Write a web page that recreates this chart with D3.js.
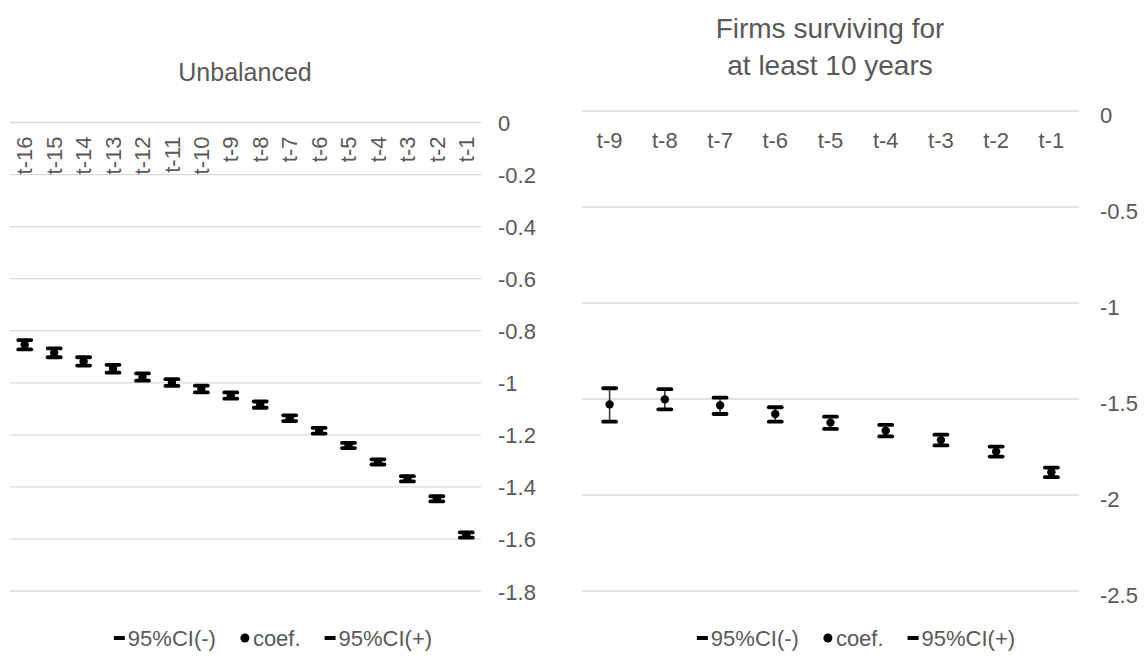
<!DOCTYPE html>
<html>
<head>
<meta charset="utf-8">
<script src="https://cdn.jsdelivr.net/npm/d3@7"></script>
<style>
  html, body { margin: 0; padding: 0; background: #ffffff; }
  svg { display: block; font-family: "Liberation Sans", Arial, Helvetica, sans-serif; }
</style>
</head>
<body>
<svg id="chart" width="1146" height="660"></svg>
<script>
// ---- Unbalanced panel ----
const leftCategories = ["t-16","t-15","t-14","t-13","t-12","t-11","t-10","t-9","t-8","t-7","t-6","t-5","t-4","t-3","t-2","t-1"];
const leftCoef  = [-0.854,-0.885,-0.918,-0.946,-0.978,-0.999,-1.024,-1.049,-1.084,-1.136,-1.184,-1.241,-1.304,-1.369,-1.446,-1.585];
const leftLower = [-0.872,-0.902,-0.934,-0.961,-0.992,-1.012,-1.037,-1.061,-1.096,-1.147,-1.195,-1.251,-1.314,-1.379,-1.456,-1.595];
const leftUpper = [-0.836,-0.868,-0.902,-0.931,-0.964,-0.986,-1.011,-1.037,-1.072,-1.125,-1.173,-1.231,-1.294,-1.359,-1.436,-1.575];
const leftTicks = [0,-0.2,-0.4,-0.6,-0.8,-1,-1.2,-1.4,-1.6,-1.8];

// ---- Firms surviving for at least 10 years panel ----
const rightCategories = ["t-9","t-8","t-7","t-6","t-5","t-4","t-3","t-2","t-1"];
const rightCoef  = [-1.528,-1.502,-1.533,-1.578,-1.623,-1.665,-1.714,-1.774,-1.882];
const rightLower = [-1.618,-1.554,-1.578,-1.618,-1.656,-1.695,-1.742,-1.800,-1.907];
const rightUpper = [-1.444,-1.449,-1.493,-1.543,-1.592,-1.635,-1.686,-1.748,-1.857];
const rightTicks = [0,-0.5,-1,-1.5,-2,-2.5];

const legendLabels = ["95%CI(-)", "coef.", "95%CI(+)"];

const svg = d3.select("#chart");
const textColor = "#595959";
const gridColor = "#d9d9d9";
const tickFont = "22px";

function drawPanel(cfg) {
  const g = svg.append("g");
  const x = d3.scaleBand().domain(cfg.categories).range([cfg.x0, cfg.x1]);
  const y = d3.scaleLinear().domain([cfg.yMin, 0]).range([cfg.yBottom, cfg.yTop]);

  // gridlines
  g.append("g").selectAll("line").data(cfg.ticks).join("line")
    .attr("x1", cfg.x0).attr("x2", cfg.x1)
    .attr("y1", d => y(d)).attr("y2", d => y(d))
    .attr("stroke", gridColor).attr("stroke-width", 1.3);

  // value axis on the right
  const yAxis = d3.axisRight(y).tickValues(cfg.ticks).tickFormat(d => String(d)).tickSize(0).tickPadding(0);
  const ya = g.append("g").attr("transform", `translate(${cfg.labelX},${cfg.labelDy})`).call(yAxis);
  ya.select(".domain").remove();
  ya.selectAll("text").attr("fill", textColor).style("font-size", tickFont)
    .style("font-family", '"Liberation Sans", Arial, sans-serif');

  // category axis labels just below the zero line
  const xAxis = d3.axisBottom(x).tickSize(0).tickPadding(0);
  const xa = g.append("g").attr("transform", `translate(0,${y(0)})`).call(xAxis);
  xa.select(".domain").remove();
  const xt = xa.selectAll("text").attr("fill", textColor).style("font-size", tickFont)
    .style("font-family", '"Liberation Sans", Arial, sans-serif');
  if (cfg.rotate) {
    xt.attr("transform", "rotate(-90)")
      .attr("text-anchor", "end").attr("dy", "0.35em")
      .attr("x", -cfg.labelOffset).attr("y", 0);
  } else {
    xt.attr("dy", null).attr("y", cfg.labelOffset);
  }

  const rows = cfg.categories.map((c, i) => ({
    c, coef: cfg.coef[i], lo: cfg.lower[i], hi: cfg.upper[i]
  }));
  const cx = d => x(d.c) + x.bandwidth() / 2;

  // high-low connecting line
  g.append("g").selectAll("line").data(rows).join("line")
    .attr("x1", cx).attr("x2", cx)
    .attr("y1", d => y(d.hi)).attr("y2", d => y(d.lo))
    .attr("stroke", "#3a3a3a").attr("stroke-width", 1.6);

  // CI dash markers
  const capW = 13;
  ["lo", "hi"].forEach(k => {
    g.append("g").selectAll("line").data(rows).join("line")
      .attr("x1", d => cx(d) - capW / 2).attr("x2", d => cx(d) + capW / 2)
      .attr("y1", d => y(d[k])).attr("y2", d => y(d[k]))
      .attr("stroke", "#000").attr("stroke-width", 3.8).attr("stroke-linecap", "round");
  });

  // coefficient points
  g.append("g").selectAll("circle").data(rows).join("circle")
    .attr("cx", cx).attr("cy", d => y(d.coef)).attr("r", 4.2)
    .attr("fill", "#000");

  // title
  const t = g.append("text").attr("x", cfg.titleX).attr("text-anchor", "middle")
    .attr("fill", textColor).style("font-size", cfg.titleSize);
  cfg.title.forEach((line, i) => {
    t.append("tspan").attr("x", cfg.titleX).attr("y", cfg.titleY[i]).text(line);
  });

  // legend
  const lg = g.append("g").attr("transform", `translate(0,${cfg.legendY})`);
  let cursor = 0;
  const items = [];
  legendLabels.forEach((lab, i) => {
    const item = lg.append("g");
    if (i === 1) {
      item.append("circle").attr("cx", 5).attr("cy", -8).attr("r", 4.5).attr("fill", "#000");
    } else {
      item.append("line").attr("x1", 0).attr("x2", 11).attr("y1", -8).attr("y2", -8)
        .attr("stroke", "#000").attr("stroke-width", 4);
    }
    const tx = item.append("text").attr("x", i === 1 ? 13 : 14).attr("y", 0)
      .attr("fill", textColor).style("font-size", tickFont).text(lab);
    const w = (i === 1 ? 13 : 14) + tx.node().getComputedTextLength();
    items.push({ item, start: cursor });
    cursor += w + 24;
  });
  const total = cursor - 24;
  const offset = cfg.legendCenter - total / 2;
  items.forEach(o => o.item.attr("transform", `translate(${offset + o.start},0)`));
}

drawPanel({
  categories: leftCategories, coef: leftCoef, lower: leftLower, upper: leftUpper,
  ticks: leftTicks, yMin: -1.8,
  x0: 10, x1: 481, yTop: 122.5, yBottom: 591,
  labelX: 498, labelDy: 1,
  rotate: true, labelOffset: 14,
  title: ["Unbalanced"], titleX: 245, titleY: [81], titleSize: "25px",
  legendY: 646, legendCenter: 273
});

drawPanel({
  categories: rightCategories, coef: rightCoef, lower: rightLower, upper: rightUpper,
  ticks: rightTicks, yMin: -2.5,
  x0: 582, x1: 1079, yTop: 111, yBottom: 591,
  labelX: 1100, labelDy: 4,
  rotate: false, labelOffset: 37,
  title: ["Firms surviving for", "at least 10 years"], titleX: 830, titleY: [38, 75], titleSize: "28px",
  legendY: 646, legendCenter: 856
});
</script>
</body>
</html>
